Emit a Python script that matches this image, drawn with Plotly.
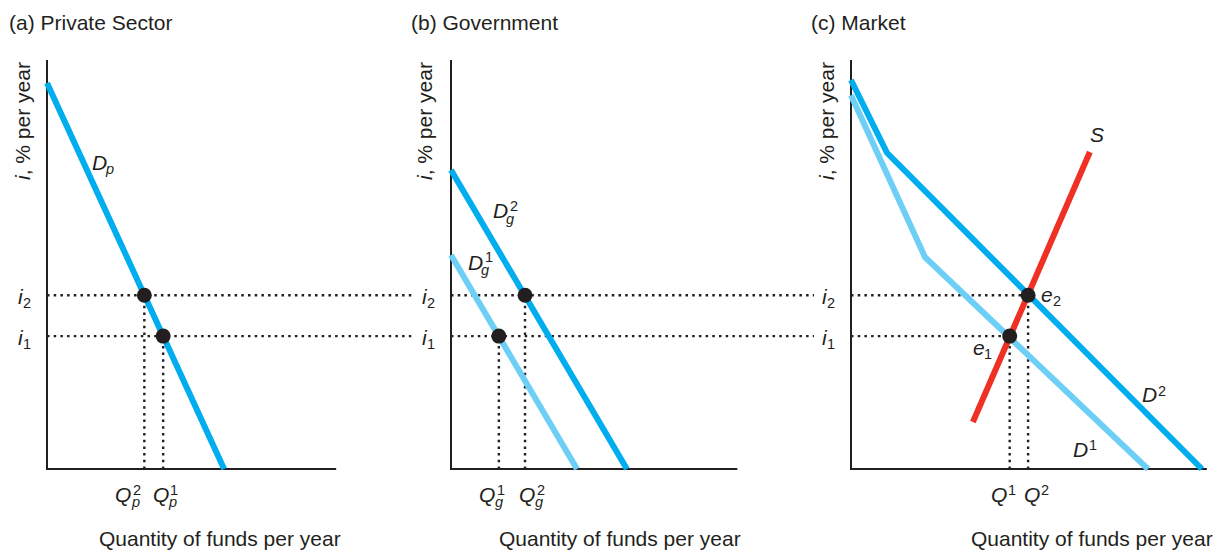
import plotly.graph_objects as go

# ---------------- data (vertical: interest rate i, horizontal: quantity of funds) -------------
i_levels = [3.25, 4.25]            # i1, i2
i_names = ["1", "2"]

# (a) Private sector demand D_p
dp_q = [0.0, 4.33]
dp_i = [9.44, 0.0]
q_private = [2.84, 2.38]           # Q_p^1 (at i1), Q_p^2 (at i2)

# (b) Government demand D_g^1, D_g^2
dg1_q = [0.0, 3.08]
dg1_i = [5.23, 0.0]
dg2_q = [0.0, 4.30]
dg2_i = [7.31, 0.0]
q_gov = [1.17, 1.81]               # Q_g^1 (at i1), Q_g^2 (at i2)

# (c) Market demand D^1, D^2 and supply S
d1_q = [0.0, 1.81, 7.26]
d1_i = [9.14, 5.18, 0.0]
d2_q = [0.0, 0.88, 8.58]
d2_i = [9.51, 7.73, 0.0]
s_q = [2.98, 5.84]
s_i = [1.15, 7.75]
q_market = [3.88, 4.33]            # Q^1 (at i1), Q^2 (at i2)

axis_top = 10.0
axis_len = [7.07, 7.0, 8.70]

titles = ["(a) Private Sector", "(b) Government", "(c) Market"]
ytitle = "<i>i</i>, % per year"
xtitle = "Quantity of funds per year"

# ---------------- styling / layout ----------------
W, H = 1216, 550
U = 40.9            # pixels per unit
PAD = 12            # px
origins = [47, 451, 851]
right_px = [415, 814, 1213]
top_px, bottom_px = 48, 481

FONT = "Liberation Sans, Arial, Helvetica, sans-serif"
INK = "#231F20"
DARK = "#00AEEF"
LIGHT = "#6DCFF6"
RED = "#EE3124"
DOT = "2.5px,4.2px"
BASE = 21
SCRIPT = 14.5

fig = go.Figure()

def axn(k):
    return ("x" if k == 1 else f"x{k}"), ("y" if k == 1 else f"y{k}")

def line(k, xs, ys, color, width, dash=None):
    xa, ya = axn(k)
    fig.add_trace(go.Scatter(x=xs, y=ys, xaxis=xa, yaxis=ya, mode="lines",
                             line=dict(color=color, width=width, dash=dash),
                             hoverinfo="skip", showlegend=False))

def dots(k, xs, ys):
    xa, ya = axn(k)
    fig.add_trace(go.Scatter(x=xs, y=ys, xaxis=xa, yaxis=ya, mode="markers",
                             marker=dict(color=INK, size=15),
                             hoverinfo="skip", showlegend=False))

annotations = []

def ann(text, x, y, xref, yref, size=BASE, xanchor="center", yanchor="middle",
        xshift=0, yshift=0, angle=0):
    annotations.append(dict(text=text, x=x, y=y, xref=xref, yref=yref, showarrow=False,
                            font=dict(family=FONT, size=size, color=INK), borderpad=0,
                            xanchor=xanchor, yanchor=yanchor, xshift=xshift,
                            yshift=yshift, textangle=angle))

def lab(k, x, y, base, sup=None, sub=None, dx=0, dy=0, sdx=9, bdx=7, sdy=4, bdy=-8):
    """Italic letter with optional stacked superscript / subscript."""
    xa, ya = axn(k)
    ann(f"<i>{base}</i>", x, y, xa, ya, xshift=dx, yshift=dy)
    if sup is not None:
        ann(sup, x, y, xa, ya, size=SCRIPT, xanchor="left", xshift=dx + sdx, yshift=dy + sdy)
    if sub is not None:
        ann(sub, x, y, xa, ya, size=SCRIPT, xanchor="left", xshift=dx + bdx, yshift=dy + bdy)

# ranges
xmax = [(right_px[j] - origins[j]) / U for j in range(3)]
xmin = -PAD / U

# ---- axes
for j in range(3):
    line(j + 1, [0, 0, axis_len[j]], [axis_top, 0, 0], INK, 2)

# panel (a)
for lev in i_levels:
    line(1, [0, xmax[0]], [lev, lev], INK, 2.4, DOT)
for q, lev in zip(q_private, i_levels):
    line(1, [q, q], [0, lev], INK, 2.4, DOT)
line(1, dp_q, dp_i, DARK, 6)
dots(1, q_private, i_levels)

# panel (b)
for lev in i_levels:
    line(2, [0, xmax[1]], [lev, lev], INK, 2.4, DOT)
for q, lev in zip(q_gov, i_levels):
    line(2, [q, q], [0, lev], INK, 2.4, DOT)
line(2, dg1_q, dg1_i, LIGHT, 6)
line(2, dg2_q, dg2_i, DARK, 6)
dots(2, q_gov, i_levels)

# panel (c)
for q, lev in zip(q_market, i_levels):
    line(3, [0, q], [lev, lev], INK, 2.4, DOT)
    line(3, [q, q], [0, lev], INK, 2.4, DOT)
line(3, d1_q, d1_i, LIGHT, 6)
line(3, d2_q, d2_i, DARK, 6)
line(3, s_q, s_i, RED, 6)
dots(3, q_market, i_levels)

# ---- text
title_x = [8, 410, 810]
ytitle_x = [23, 425, 827]
xtitle_x = [219.5, 620, 1092]
for j in range(3):
    ann(titles[j], title_x[j] / W, 1 - 22 / H, "paper", "paper", xanchor="left")
    ann(ytitle, ytitle_x[j] / W, 1 - 121 / H, "paper", "paper", angle=-90)
    ann(xtitle, xtitle_x[j] / W, 1 - 538 / H, "paper", "paper")
    for lev, nm in zip(i_levels, i_names):
        lab(j + 1, 0, lev, "i", sub=nm, dx=-26, dy=-1.5, bdx=1, bdy=-6)

# (a) labels
lab(1, 1.28, 7.49, "D", sub="<i>p</i>", bdx=5, bdy=-6)
lab(1, q_private[0], 0, "Q", "1", "<i>p</i>", dx=-2, dy=-25, sdx=8, bdx=6)
lab(1, q_private[1], 0, "Q", "2", "<i>p</i>", dx=-21.5, dy=-25, sdx=9, bdx=7)

# (b) labels
lab(2, 1.22, 6.32, "D", "2", "<i>g</i>", sdx=8, bdx=4, sdy=5)
lab(2, 0.61, 5.05, "D", "1", "<i>g</i>", sdx=8.5, bdx=4, sdy=5)
lab(2, q_gov[0], 0, "Q", "1", "<i>g</i>", dx=-12, dy=-25, sdx=9, bdx=7)
lab(2, q_gov[1], 0, "Q", "2", "<i>g</i>", dx=2, dy=-25, sdx=9, bdx=7)

# (c) labels
lab(3, 6.01, 8.18, "S")
lab(3, 7.31, 1.81, "D", sup="2", sdx=7.5, sdy=4)
lab(3, 5.60, 0.48, "D", sup="1", sdx=7.5, sdy=4)
lab(3, q_market[1], i_levels[1], "e", sub="2", dx=19, dy=1, bdx=4.5, bdy=-7)
lab(3, q_market[0], i_levels[0], "e", sub="1", dx=-31, dy=-11, bdx=4.5, bdy=-7)
lab(3, q_market[0], 0, "Q", sup="1", dx=-11, dy=-25, sdx=8, sdy=4)
lab(3, q_market[1], 0, "Q", sup="2", dx=4, dy=-25, sdx=8, sdy=4)

# ---- layout
layout = dict(width=W, height=H, margin=dict(l=0, r=0, t=0, b=0),
              paper_bgcolor="white", plot_bgcolor="white",
              annotations=annotations, showlegend=False,
              font=dict(family=FONT, color=INK))
ydom = [(H - bottom_px) / H, (H - top_px) / H]
yrange = [-PAD / U, axis_top + PAD / U]
for j in range(3):
    k = j + 1
    xname = "xaxis" if k == 1 else f"xaxis{k}"
    yname = "yaxis" if k == 1 else f"yaxis{k}"
    yk = "y" if k == 1 else f"y{k}"
    xk = "x" if k == 1 else f"x{k}"
    layout[xname] = dict(domain=[(origins[j] - PAD) / W, right_px[j] / W],
                         range=[xmin, xmax[j]], visible=False, anchor=yk, fixedrange=True)
    layout[yname] = dict(domain=ydom, range=yrange, visible=False, anchor=xk, fixedrange=True)
fig.update_layout(**layout)

fig.write_html("out.html", config={"displayModeBar": False},
               post_script="document.body.style.margin='0';")
